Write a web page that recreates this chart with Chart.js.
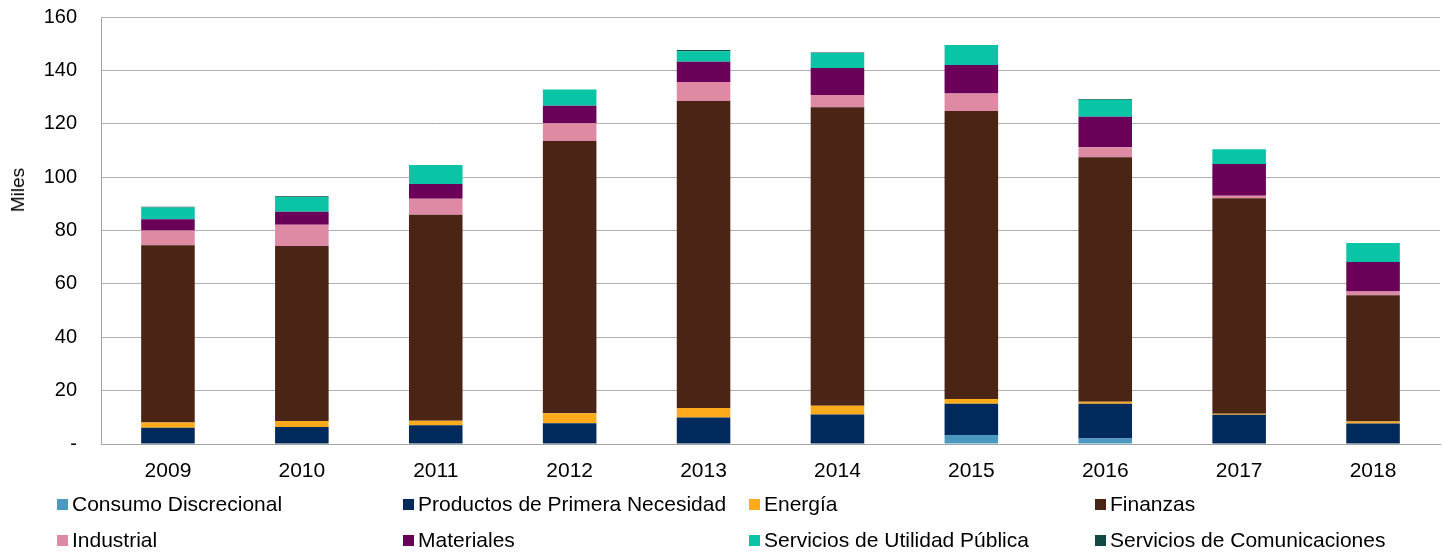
<!DOCTYPE html>
<html>
<head>
<meta charset="utf-8">
<script src="https://cdn.jsdelivr.net/npm/chart.js@4.4.0/dist/chart.umd.min.js"></script>
<style>
  html, body { margin: 0; padding: 0; background: #fff; }
  #wrap { position: relative; width: 1443px; height: 552px; }
  #c { position: absolute; left: 0; top: 0; }
  #legend { position: absolute; left: 57px; top: 490px; display: grid;
    grid-template-columns: 346px 346px 346px 346px; grid-auto-rows: 36px;
    font-family: "Liberation Sans", Arial, sans-serif; font-size: 21px; color: #000; }
  .item { display: flex; align-items: center; white-space: nowrap; height: 28px; }
  .sw { width: 11px; height: 11px; margin-right: 4px; flex: none; }
  #ytitle { position: absolute; left: 18px; top: 190px; transform: translate(-50%, -50%) rotate(-90deg);
    font-family: "Liberation Sans", Arial, sans-serif; font-size: 19px; color: #000; white-space: nowrap; }
</style>
</head>
<body>
<div id="wrap">
  <canvas id="c" width="1443" height="552"></canvas>
  <div id="legend"></div>
  <div id="ytitle"></div>
</div>
<script>
const categories = ["2009","2010","2011","2012","2013","2014","2015","2016","2017","2018"];

const consumoDiscrecional   = [0, 0, 0, 0, 0, 0, 3.4, 2.1, 0, 0];
const productosPrimeraNec   = [6.1, 6.4, 7.0, 7.75, 9.9, 11.1, 11.7, 13.0, 11.0, 7.7];
const energia               = [2.0, 2.25, 1.7, 3.75, 3.6, 3.2, 1.75, 0.75, 0.3, 0.75];
const finanzas              = [66.4, 65.5, 77.2, 102.0, 115.0, 111.9, 107.9, 91.6, 80.8, 47.3];
const industrial            = [5.5, 8.0, 6.0, 6.7, 7.1, 4.6, 6.6, 3.75, 0.9, 1.4];
const materiales            = [4.2, 4.9, 5.5, 6.5, 7.6, 10.1, 10.7, 11.4, 11.9, 11.0];
const serviciosUtilidad     = [4.4, 5.5, 7.1, 6.1, 4.0, 5.6, 7.5, 6.4, 5.5, 7.2];
const serviciosComunicacion = [0.3, 0.3, 0, 0, 0.4, 0.2, 0, 0.3, 0, 0];

const yTicks = [0, 20, 40, 60, 80, 100, 120, 140, 160];
const yTitle = "Miles";

const seriesNames = ["Consumo Discrecional", "Productos de Primera Necesidad", "Energía", "Finanzas",
  "Industrial", "Materiales", "Servicios de Utilidad Pública", "Servicios de Comunicaciones"];
const seriesData = [consumoDiscrecional, productosPrimeraNec, energia, finanzas,
  industrial, materiales, serviciosUtilidad, serviciosComunicacion];
const seriesColors = ["#4b98c0", "#002a5c", "#fdaa1b", "#4a2515",
  "#de8aa4", "#6b0059", "#0ac4a6", "#0e4a42"];

const FONT = "'Liberation Sans', Arial, sans-serif";

const datasets = seriesNames.map((n, i) => ({
  label: n,
  data: seriesData[i],
  backgroundColor: seriesColors[i],
  borderWidth: 0,
  barPercentage: 0.4,
  categoryPercentage: 1.0
}));

new Chart(document.getElementById('c'), {
  type: 'bar',
  data: { labels: categories, datasets },
  options: {
    responsive: false,
    animation: false,
    layout: { padding: { top: 17, right: 3, bottom: 58, left: 0 } },
    plugins: { legend: { display: false }, tooltip: { enabled: false } },
    scales: {
      x: {
        stacked: true,
        afterFit: (s) => { s.height = 50; s.paddingLeft = 0; s.paddingRight = 0; },
        grid: { display: false, drawTicks: false },
        border: { display: true, color: '#a6a6a6', width: 1 },
        ticks: { color: '#000', font: { family: FONT, size: 21 }, padding: 15, maxRotation: 0 }
      },
      y: {
        stacked: true,
        min: 0, max: 160,
        afterFit: (s) => { s.width = 101; s.paddingTop = 0; s.paddingBottom = 0; },
        afterBuildTicks: (s) => { s.ticks = yTicks.map(v => ({ value: v })); },
        grid: { color: '#b0b0b0', lineWidth: 1, drawTicks: false },
        border: { display: true, color: '#a6a6a6', width: 1 },
        ticks: { color: '#000', font: { family: FONT, size: 20 }, padding: 24,
          callback: (v) => v === 0 ? '-' : v },
        title: { display: false }
      }
    }
  }
});

document.getElementById('ytitle').textContent = yTitle;
const lg = document.getElementById('legend');
seriesNames.forEach((n, i) => {
  const d = document.createElement('div');
  d.className = 'item';
  d.innerHTML = '<span class="sw" style="background:' + seriesColors[i] + '"></span><span>' + n + '</span>';
  lg.appendChild(d);
});
</script>
</body>
</html>
